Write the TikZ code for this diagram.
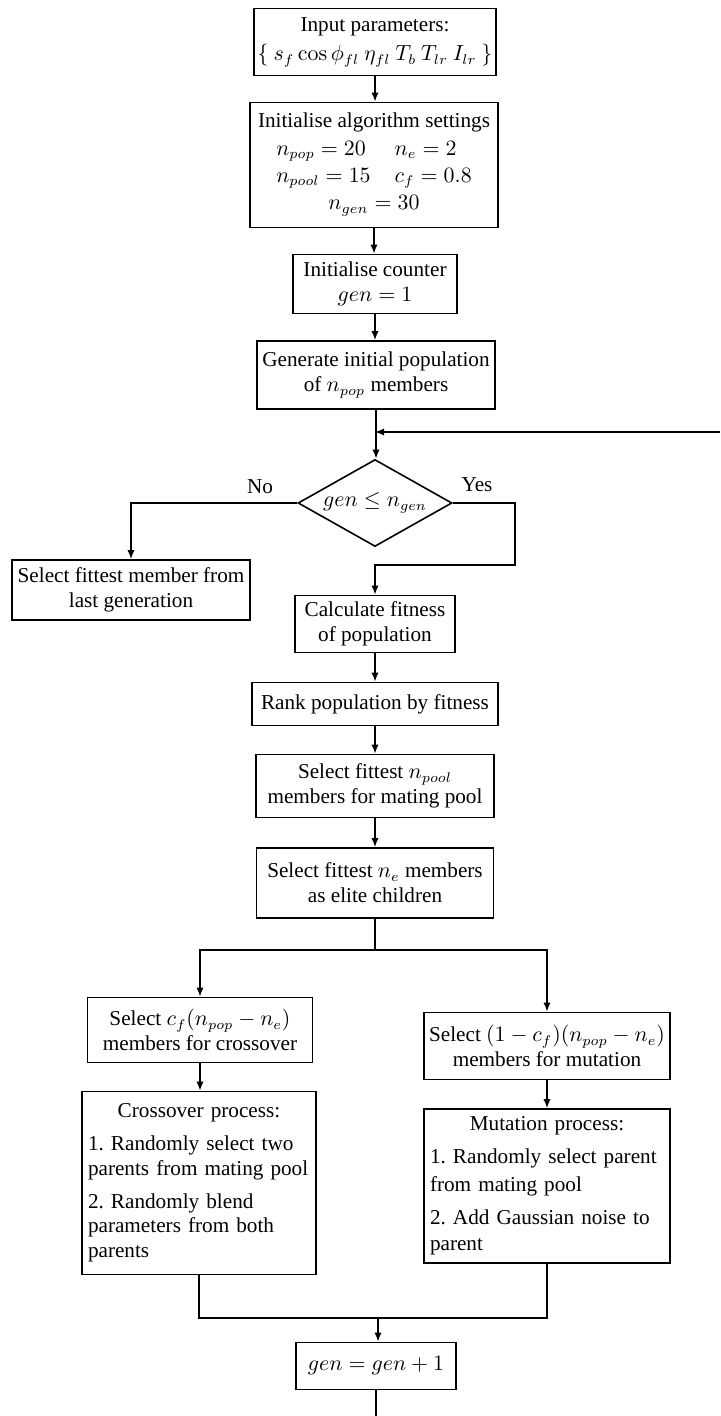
\documentclass[tikz,border=0pt]{standalone}
\usepackage[no-math]{fontspec}
\setmainfont{Liberation Serif}
\usetikzlibrary{shapes.geometric,arrows.meta}
\frenchspacing
\begin{document}
\begin{tikzpicture}[x=0.5pt,y=-0.5pt,
  every node/.style={font=\fontsize{10.6}{12.4}\selectfont},
  box/.style={draw,line width=0.8pt,align=center,inner sep=2pt},
  decision/.style={draw,line width=0.8pt,diamond,aspect=1.77,inner sep=0pt},
  arr/.style={line width=0.8pt,-{Latex[length=4.5pt,width=3.6pt]}},
  ln/.style={line width=0.8pt}]
\useasboundingbox (0,0) rectangle (720,1416);
\node[box,minimum width=120.5pt,minimum height=33.5pt] (in) at (375,42)
  {Input parameters:\\[2.5pt] $\{\:s_f\cos\phi_{fl}\:\eta_{fl}\:T_b\:T_{lr}\:I_{lr}\:\}$};
\node[box,minimum width=124pt,minimum height=62.5pt] (set) at (374,165)
  {Initialise algorithm settings\\[2pt]
   \begin{tabular}{@{}l@{\hspace{12pt}}l@{}}
   $n_{pop}=20$ & $n_e=2$\\[1.2pt]
   $n_{pool}=15$ & $c_f=0.8$\\[1.2pt]
   \multicolumn{2}{c}{$n_{gen}=30$}
   \end{tabular}};
\node[box,minimum width=82pt,minimum height=29.5pt] (cnt) at (375,284)
  {Initialise counter\\ $gen=1$};
\node[box,minimum width=119pt,minimum height=34pt] (gen) at (376,375)
  {Generate initial population\\ of $n_{pop}$ members};
\node[decision,minimum width=77pt,minimum height=43.5pt] (dec) at (375,503)
  {$gen\leq n_{gen}$};
\node (no) at (260,487) {No};
\node (yes) at (477,485) {Yes};
\node[box,minimum width=119pt,minimum height=30pt] (last) at (131,590)
  {Select fittest member from\\ last generation};
\node[box,minimum width=80pt,minimum height=28.5pt] (calc) at (375,624)
  {Calculate fitness\\ of population};
\node[box,minimum width=123pt,minimum height=21.5pt] (rank) at (375,704)
  {Rank population by fitness};
\node[box,minimum width=119pt,minimum height=31.5pt] (pool) at (375,786)
  {Select fittest $n_{pool}$\\ members for mating pool};
\node[box,minimum width=118.5pt,minimum height=35pt] (elite) at (375,883)
  {Select fittest $n_e$ members\\ as elite children};
\node[box,minimum width=112.5pt,minimum height=32.5pt] (xsel) at (200,1030)
  {Select $c_f(n_{pop}-n_e)$\\ members for crossover};
\node[box,minimum width=117pt,minimum height=91.5pt,text width=111pt,align=left] (xproc) at (199,1183)
  {\makebox[111pt]{Crossover process:}\\[4pt]
   1. Randomly select two\\ parents from mating pool\\[4pt]
   2. Randomly blend\\ parameters from both\\ parents};
\node[box,minimum width=123pt,minimum height=33.5pt] (msel) at (547,1046)
  {Select $(1-c_f)(n_{pop}-n_e)$\\ members for mutation};
\node[box,minimum width=123pt,minimum height=77pt,text width=117pt,align=left] (mproc) at (547,1186)
  {\makebox[117pt]{Mutation process:}\\[4pt]
   1. Randomly select parent\\[1.5pt] from mating pool\\[4pt]
   2. Add Gaussian noise to\\[1pt] parent};
\node[box,minimum width=80pt,minimum height=23.5pt] (inc) at (376,1366)
  {$gen=gen+1$};
\coordinate (fb) at (720,432);
\coordinate (yesc) at (515,565);
\coordinate (split) at (375,950);
\coordinate (join) at (378,1318);
\coordinate (bot) at (376,1416);
\draw[arr] (in.south) -- (in.south |- set.north);
\draw[arr] (set.south) -- (set.south |- cnt.north);
\draw[arr] (cnt.south) -- (cnt.south |- gen.north);
\draw[arr] (gen.south) -- (gen.south |- dec.north);
\draw[arr] (fb) -- (fb -| dec.north);
\draw[arr] (dec.west) -| (last.north);
\draw[arr] (dec.east) -| (yesc) -| (calc.north);
\draw[arr] (calc.south) -- (calc.south |- rank.north);
\draw[arr] (rank.south) -- (rank.south |- pool.north);
\draw[arr] (pool.south) -- (pool.south |- elite.north);
\draw[ln] (elite.south) -- (split);
\draw[arr] (split) -| (xsel.north);
\draw[arr] (split) -| (msel.north);
\draw[arr] (xsel.south) -- (xsel.south |- xproc.north);
\draw[arr] (msel.south) -- (msel.south |- mproc.north);
\draw[ln] (xproc.south) |- (join);
\draw[ln] (mproc.south) |- (join);
\draw[arr] (join) -- (join |- inc.north);
\draw[ln] (inc.south) -- (inc.south |- bot);
\end{tikzpicture}
\end{document}
